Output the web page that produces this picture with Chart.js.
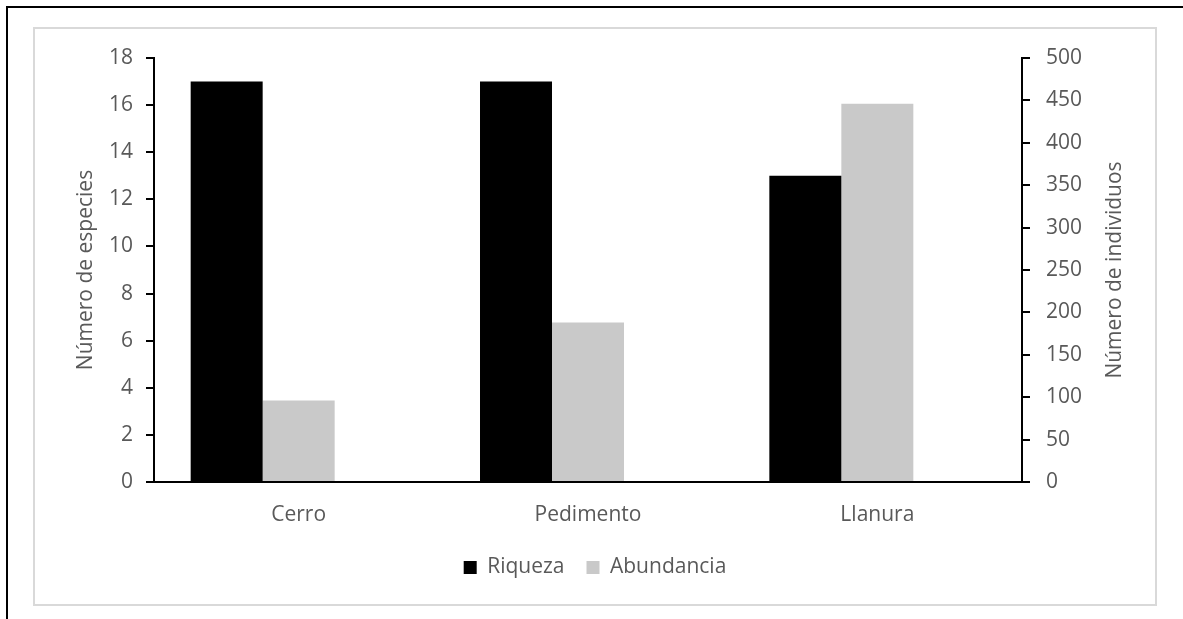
<!DOCTYPE html>
<html>
<head>
<meta charset="utf-8">
<script src="https://cdn.jsdelivr.net/npm/chart.js@4"></script>
<style>
  body { margin: 0; background: #fff; width: 1183px; height: 619px; overflow: hidden; position: relative; }
  #marco { position: absolute; left: 6px; top: 6px; width: 1200px; height: 700px; border-left: 2px solid #000; border-top: 2px solid #000; }
  #caja { position: absolute; left: 33px; top: 27px; width: 1120px; height: 575px; border: 2px solid #d9d9d9; background: #fff; }
</style>
</head>
<body>
<div id="marco"></div>
<div id="caja"><canvas id="grafico" width="1120" height="575"></canvas></div>
<script>
// datos
const sitios = ['Cerro', 'Pedimento', 'Llanura'];
const riqueza = [17, 17, 13];
const abundancia = [96, 188, 446];
const ticksEspecies = [0, 18, 2];    // min, max, paso
const ticksIndividuos = [0, 500, 50];
const tituloIzq = 'Número de especies';
const tituloDer = 'Número de individuos';

const gris = '#595959';
Chart.defaults.font.family = "'Open Sans'";
Chart.defaults.font.size = 21;
Chart.defaults.color = gris;

// titulos verticales, los dos leidos de abajo hacia arriba
const titulosEjes = {
  id: 'titulosEjes',
  afterDraw(chart) {
    const { ctx, chartArea, scales } = chart;
    const medio = (chartArea.top + chartArea.bottom) / 2;
    const poner = (txt, x) => {
      ctx.save();
      ctx.translate(x, medio);
      ctx.rotate(-Math.PI / 2);
      ctx.font = "21px 'Open Sans'";
      ctx.fillStyle = gris;
      ctx.textAlign = 'center';
      ctx.textBaseline = 'middle';
      ctx.fillText(txt, 0, 0);
      ctx.restore();
    };
    poner(tituloIzq, scales.y.left + 51);
    poner(tituloDer, scales.y1.right - 40);
  }
};

const ejeY = (pos, min, max, paso, ancho, pad) => ({
  type: 'linear',
  position: pos,
  min: min,
  max: max,
  ticks: { stepSize: paso, padding: pad, color: gris },
  grid: { drawOnChartArea: false, drawTicks: true, tickLength: 8, color: '#000', lineWidth: 2 },
  border: { display: true, color: '#000', width: 2 },
  afterFit(scale) { scale.width = ancho; }
});

new Chart(document.getElementById('grafico').getContext('2d'), {
  type: 'bar',
  data: {
    labels: sitios,
    datasets: [
      { label: 'Riqueza', data: riqueza, backgroundColor: '#000000', yAxisID: 'y' },
      { label: 'Abundancia', data: abundancia, backgroundColor: '#c9c9c9', yAxisID: 'y1' },
      // hueco vacio a la derecha: deja la barra gris centrada en su categoria
      { data: [null, null, null], yAxisID: 'y1' }
    ]
  },
  options: {
    responsive: false,
    animation: false,
    datasets: { bar: { categoryPercentage: 0.7465, barPercentage: 1.0 } },
    layout: { padding: { top: 29, left: 0, right: 0, bottom: 16 } },
    plugins: {
      tooltip: { enabled: false },
      legend: {
        position: 'bottom',
        labels: {
          boxWidth: 13, boxHeight: 13, padding: 22, color: gris,
          filter: item => !!item.text
        }
      }
    },
    scales: {
      x: {
        grid: { drawOnChartArea: false, drawTicks: false },
        border: { display: true, color: '#000', width: 2 },
        ticks: { padding: 20, color: gris },
        afterFit(scale) { scale.height = 53; }
      },
      y: ejeY('left', ticksEspecies[0], ticksEspecies[1], ticksEspecies[2], 119, 13),
      y1: ejeY('right', ticksIndividuos[0], ticksIndividuos[1], ticksIndividuos[2], 133, 16)
    }
  },
  plugins: [titulosEjes]
});
</script>
</body>
</html>
